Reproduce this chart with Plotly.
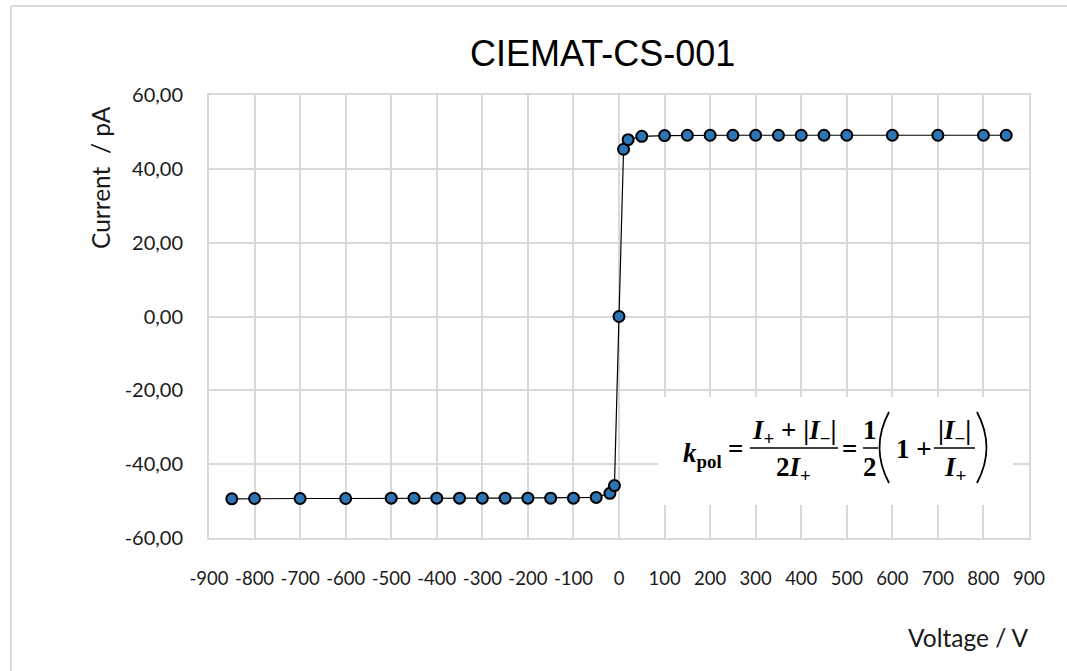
import plotly.graph_objects as go

# ---- data ----
voltage = [-850, -800, -700, -600, -500, -450, -400, -350, -300, -250, -200, -150,
           -100, -50, -20, -10, 0, 10, 20, 50, 100, 150, 200, 250, 300, 350, 400,
           450, 500, 600, 700, 800, 850]
current = [-49.4, -49.3, -49.3, -49.3, -49.2, -49.2, -49.2, -49.2, -49.2, -49.2,
           -49.2, -49.2, -49.2, -49.0, -47.9, -45.8, 0.0, 45.3, 47.9, 48.8, 49.0,
           49.1, 49.1, 49.1, 49.1, 49.1, 49.1, 49.1, 49.1, 49.1, 49.1, 49.1, 49.1]

x_tickvals = [-900, -800, -700, -600, -500, -400, -300, -200, -100, 0,
              100, 200, 300, 400, 500, 600, 700, 800, 900]
x_ticktext = ["-900", "-800", "-700", "-600", "-500", "-400", "-300", "-200", "-100", "0",
              "100", "200", "300", "400", "500", "600", "700", "800", "900"]
y_tickvals = [-60, -40, -20, 0, 20, 40, 60]
y_ticktext = ["-60,00", "-40,00", "-20,00", "0,00", "20,00", "40,00", "60,00"]

title_text = "CIEMAT-CS-001"
x_title = "Voltage / V"
y_title = "Current  / pA"

# ---- layout geometry (pixels) ----
W, H = 1067, 671
L, R, T, B = 209, 1029, 95, 538


def px(xp):
    return (xp - L) / (R - L)


def py(yp):
    return (B - yp) / (B - T)


GRID = "#D9D9D9"
XTICKFONT = dict(family="Lato, Open Sans, sans-serif", size=18.5, color="#1a1a1a")
YTICKFONT = dict(family="Lato, Open Sans, sans-serif", size=20, color="#1a1a1a")

fig = go.Figure()
fig.add_trace(go.Scatter(
    x=voltage, y=current, mode="lines+markers",
    line=dict(color="#000000", width=1.2),
    marker=dict(size=11, color="#2E75B6", line=dict(color="#000000", width=2)),
    showlegend=False, hoverinfo="x+y",
))

fig.update_layout(
    width=W, height=H,
    margin=dict(l=L, r=W - R, t=T, b=H - B, pad=0),
    paper_bgcolor="white", plot_bgcolor="white",
    showlegend=False,
)
fig.update_xaxes(
    range=[-900, 900], tickvals=x_tickvals, ticktext=x_ticktext,
    showgrid=True, gridcolor=GRID, gridwidth=2, zeroline=False,
    showline=True, linecolor=GRID, linewidth=2, mirror=True,
    ticks="", tickfont=XTICKFONT, ticklabelstandoff=23,
)
fig.update_yaxes(
    range=[-60, 60], tickvals=y_tickvals, ticktext=y_ticktext,
    showgrid=True, gridcolor=GRID, gridwidth=2, zeroline=False,
    showline=True, linecolor=GRID, linewidth=2, mirror=True,
    ticks="", tickfont=YTICKFONT, ticklabelstandoff=20,
)

shapes = []
# outer chart border (left and top only visible)
shapes.append(dict(type="line", xref="paper", yref="paper",
                   x0=px(11), x1=px(11), y0=py(6), y1=py(H + 5),
                   line=dict(color=GRID, width=2)))
shapes.append(dict(type="line", xref="paper", yref="paper",
                   x0=px(11), x1=px(W + 5), y0=py(6), y1=py(6),
                   line=dict(color=GRID, width=2)))
# white box behind formula
shapes.append(dict(type="rect", xref="paper", yref="paper",
                   x0=px(658), x1=px(1013), y0=py(505), y1=py(397),
                   fillcolor="white", line=dict(width=0), layer="above"))
# fraction bars
for x0, x1 in [(750, 838), (863, 878), (934, 975)]:
    shapes.append(dict(type="line", xref="paper", yref="paper",
                       x0=px(x0), x1=px(x1), y0=py(448), y1=py(448),
                       line=dict(color="black", width=1.5), layer="above"))
# parentheses


def paren(xe, xm, y0, y1):
    return (f"M {px(xe)} {py(y0)} Q {px(xm - (xe - xm) * 0.9)} {py((y0 + y1) / 2)} "
            f"{px(xe)} {py(y1)}")


shapes.append(dict(type="path", xref="paper", yref="paper",
                   path=paren(889, 879, 412, 483),
                   line=dict(color="black", width=1.8), layer="above"))
shapes.append(dict(type="path", xref="paper", yref="paper",
                   path=paren(977, 987, 412, 483),
                   line=dict(color="black", width=1.8), layer="above"))
fig.update_layout(shapes=shapes)

SERIF = dict(family="Liberation Serif, DejaVu Serif, serif", size=27, color="black")
SANS = dict(family="Lato, Open Sans, sans-serif", size=24.5, color="#1a1a1a")


def ann(text, x, y, font, xanchor="center", yanchor="middle", angle=0):
    fig.add_annotation(text=text, x=px(x), y=py(y), xref="paper", yref="paper",
                       showarrow=False, xanchor=xanchor, yanchor=yanchor,
                       font=font, textangle=angle)


ann(title_text, 602, 53, dict(family="Liberation Sans, Arial, sans-serif", size=36, color="black"))
ann(y_title, 100, 178, SANS, angle=-90)
ann(x_title, 1031, 637, SANS, xanchor="right")

ann("<b><i>k</i><sub>pol</sub></b>", 681, 455, SERIF, xanchor="left")
ann("<b>=</b>", 735, 449, SERIF)
ann("<b><i>I</i><sub>+</sub> + |<i>I</i><sub>−</sub>|</b>", 794, 432, SERIF)
ann("<b>2<i>I</i><sub>+</sub></b>", 793, 469, SERIF)
ann("<b>=</b>", 849, 449, SERIF)
ann("<b>1</b>", 870, 430, SERIF)
ann("<b>2</b>", 870, 467, SERIF)
ann("<b>1 +</b>", 914, 449, SERIF)
ann("<b>|<i>I</i><sub>−</sub>|</b>", 954, 432, SERIF)
ann("<b><i>I</i><sub>+</sub></b>", 955, 469, SERIF)

fig.write_html("out.html")
